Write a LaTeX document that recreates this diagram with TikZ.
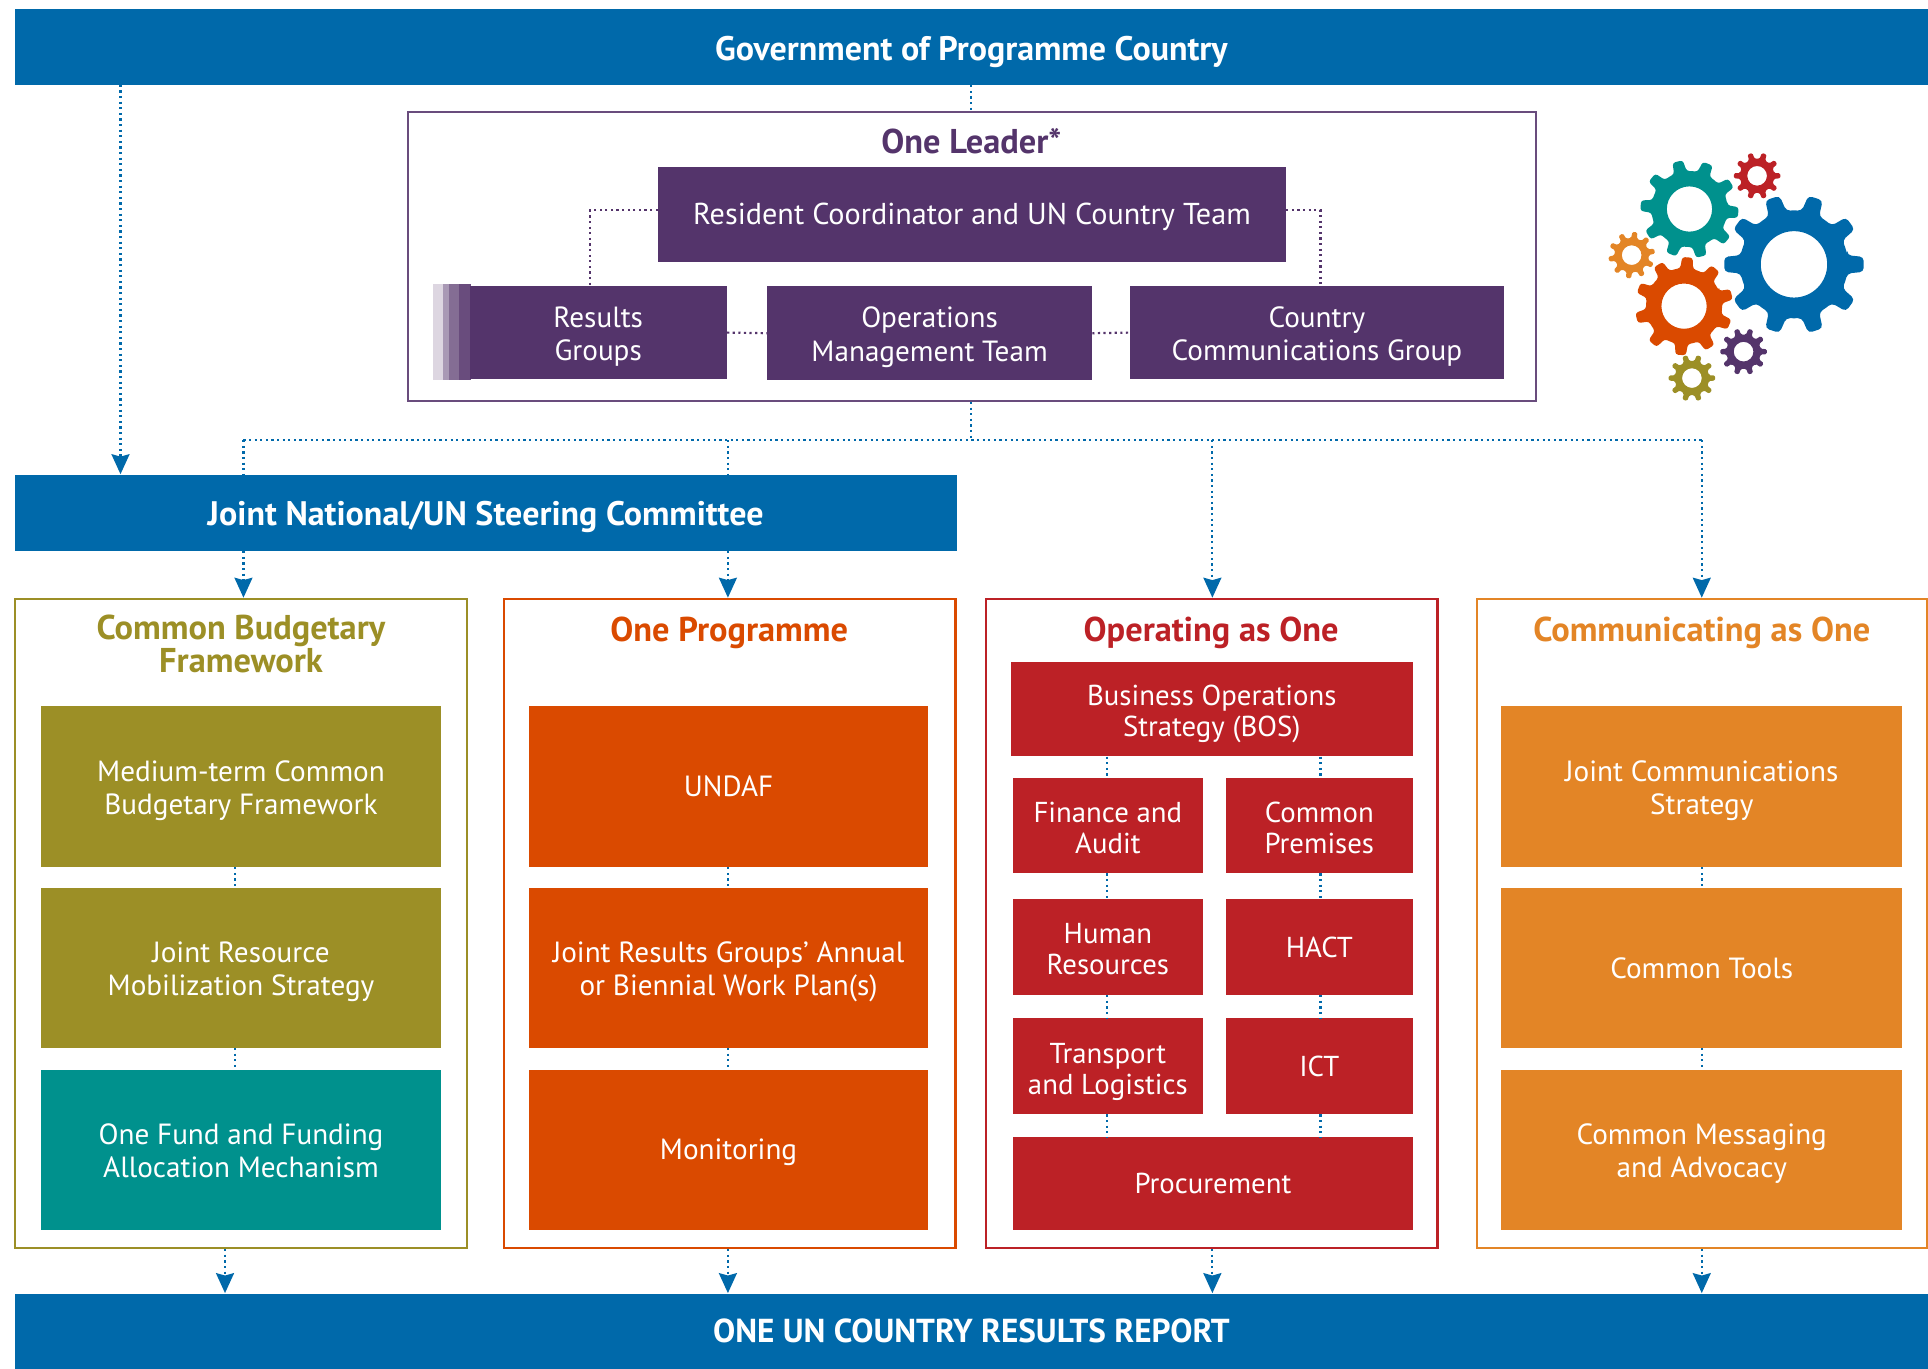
\documentclass[tikz,border=0pt]{standalone}
\usepackage{fontspec}
\setmainfont{PT Sans}
\usetikzlibrary{arrows.meta,calc}
\definecolor{unblue}{HTML}{0069AA}
\definecolor{unpurple}{HTML}{54346B}
\definecolor{unolive}{HTML}{9C8F26}
\definecolor{unteal}{HTML}{00918D}
\definecolor{unverm}{HTML}{DA4A00}
\definecolor{unred}{HTML}{BC2126}
\definecolor{unorange}{HTML}{E38526}
\newcommand{\gearshape}[8]{% cx cy outer root hole teeth rot colour
  \pgfmathsetmacro{\crad}{#3*0.035}
  \fill[#8,even odd rule,rounded corners=\crad pt]
    ({#1+#4*cos(#7+360*0.27/#6)},{#2-#4*sin(#7+360*0.27/#6)})
    \foreach \k in {1,...,#6}{
      -- ({#1+#4*cos(#7+360*(\k-0.5)/#6)},{#2-#4*sin(#7+360*(\k-0.5)/#6)})
      -- ({#1+#4*cos(#7+360*\k/#6-360*0.27/#6)},{#2-#4*sin(#7+360*\k/#6-360*0.27/#6)})
      -- ({#1+#3*cos(#7+360*\k/#6-360*0.17/#6)},{#2-#3*sin(#7+360*\k/#6-360*0.17/#6)})
      -- ({#1+#3*cos(#7+360*\k/#6+360*0.17/#6)},{#2-#3*sin(#7+360*\k/#6+360*0.17/#6)})
      -- ({#1+#4*cos(#7+360*\k/#6+360*0.27/#6)},{#2-#4*sin(#7+360*\k/#6+360*0.27/#6)})
    } -- cycle
    [sharp corners] (#1,#2) circle[radius=#5];
}
\newcommand{\topstrut}[1]{\rule{0pt}{#1pt}}
\newcommand{\botstrut}[1]{\rule[-#1pt]{0pt}{#1pt}}
\tikzset{
  x=0.6148pt,y=-0.6148pt,
  span/.style args={#1,#2,#3,#4}{at={({(#1+#3)/2},{(#2+#4)/2})},minimum width={(#3-#1)*0.6148pt},minimum height={(#4-#2)*0.6148pt}},
  regstruts/.style={execute at begin node={\topstrut{13.4}},execute at end node={\botstrut{3}}},
  boldstruts/.style={execute at begin node={\topstrut{15}},execute at end node={\botstrut{3.9}}},
  twol/.style={execute at begin node={\topstrut{31}}},
  boxbase/.style={inner sep=0pt,align=center,text=white,regstruts,font=\fontsize{14.6}{16.6}\selectfont},
  bar/.style={boxbase,boldstruts,fill=unblue,font=\fontsize{17}{18}\selectfont\bfseries},
  purplebox/.style={boxbase,fill=unpurple},
  olivebox/.style={boxbase,fill=unolive},
  tealbox/.style={boxbase,fill=unteal},
  vermbox/.style={boxbase,fill=unverm},
  redbox/.style={boxbase,fill=unred,font=\fontsize{14.4}{15.5}\selectfont},
  orangebox/.style={boxbase,fill=unorange},
  frame/.style={inner sep=0pt,draw=#1,line width=1.1pt},
  title/.style={inner sep=0pt,align=center,text=#1,execute at begin node={\topstrut{15}},execute at end node={\botstrut{3}},font=\fontsize{17.2}{16.6}\selectfont\bfseries},
  bdot/.style={draw=unblue,line width=1.1pt,dash pattern=on 1.1pt off 1.7pt},
  pdot/.style={draw=unpurple,line width=1.1pt,dash pattern=on 1.1pt off 1.7pt},
  barrow/.style={bdot,-{Stealth[length=10pt,width=9pt,inset=1.2pt,fill=unblue]}},
}
\begin{document}
\begin{tikzpicture}
\useasboundingbox (0,0) rectangle (1568,1113);
% bars
\node[bar,span={12,7,1568,69},execute at begin node={\topstrut{18}}] (gov) {Government of Programme Country};
\node[bar,span={12,386,778,448},execute at begin node={\topstrut{17}}] (jsc) {Joint National/UN Steering Committee};
\node[bar,span={12,1052,1568,1113},font=\fontsize{16.6}{18}\selectfont\bfseries] (rep) {ONE UN COUNTRY RESULTS REPORT};
% leader
\node[frame=unpurple!88!white,span={332,91,1249,326}] (lead) {};
\node[title=unpurple] at (790,115) (leadt) {One Leader*};
\node[purplebox,span={535,136,1046,213},font=\fontsize{15.1}{16.6}\selectfont] (res) {Resident Coordinator and UN Country Team};
\fill[fill=white!80!unpurple] (352,231) rectangle (360,309);
\fill[fill=white!50!unpurple] (360,231) rectangle (365,309);
\fill[fill=white!28!unpurple] (365,231) rectangle (373,309);
\fill[fill=white!12!unpurple] (373,231) rectangle (383,309);
\node[purplebox,twol,span={382,233,591,308}] (rg) {Results\\Groups};
\node[purplebox,twol,span={624,233,888,309}] (omt) {Operations\\Management Team};
\node[purplebox,twol,span={919,233,1223,308}] (ccg) {Country\\Communications Group};
% columns
\node[frame=unolive,span={12,487,380,1015}] (cbf) {};
\node[frame=unverm,span={410,487,777,1015}] (op) {};
\node[frame=unred,span={802,487,1169,1015}] (oao) {};
\node[frame=unorange,span={1201,487,1567.4,1015}] (cao) {};
\node[title=unolive] at (196,526) (cbft) {Common Budgetary\\Framework};
\node[title=unverm] at (593,512.5) (opt) {One Programme};
\node[title=unred] at (985,512.5) (oaot) {Operating as One};
\node[title=unorange] at (1384,512.5) (caot) {Communicating as One};
% olive column
\node[olivebox,twol,span={33,574,359,705}] (c1) {Medium-term Common\\Budgetary Framework};
\node[olivebox,twol,span={33,722,359,852}] (c2) {Joint Resource\\Mobilization Strategy};
\node[tealbox,twol,span={33,870,359,1000}] (c3) {One Fund and Funding\\Allocation Mechanism};
% programme column
\node[vermbox,span={430,574,755,705}] (p1) {UNDAF};
\node[vermbox,twol,span={430,722,755,852}] (p2) {Joint Results Groups’ Annual\\or Biennial Work Plan(s)};
\node[vermbox,span={430,870,755,1000}] (p3) {Monitoring};
% operating column
\node[redbox,twol,span={822,538,1149,615}] (bos) {Business Operations\\Strategy (BOS)};
\node[redbox,twol,span={824,633,978,710}] (fa) {Finance and\\Audit};
\node[redbox,twol,span={997,633,1149,710}] (cp) {Common\\Premises};
\node[redbox,twol,span={824,731,978,809}] (hr) {Human\\Resources};
\node[redbox,span={997,731,1149,809}] (hact) {HACT};
\node[redbox,twol,span={824,828,978,906}] (tl) {Transport\\and Logistics};
\node[redbox,span={997,828,1149,906}] (ict) {ICT};
\node[redbox,span={824,925,1149,1000}] (proc) {Procurement};
% communicating column
\node[orangebox,twol,span={1221,574,1547,705}] (o1) {Joint Communications\\Strategy};
\node[orangebox,span={1221,722,1547,852}] (o2) {Common Tools};
\node[orangebox,twol,span={1221,870,1547,1000}] (o3) {Common Messaging\\and Advocacy};
% named points
\coordinate (hub) at (790,358);
\coordinate (wing1) at (198,358);
\coordinate (wing2) at (592,358);
\coordinate (wing3) at (986,358);
\coordinate (wing4) at (1384,358);
\coordinate (govl) at (98,69);
\coordinate (resl) at (535,171);
\coordinate (resr) at (1046,171);
\coordinate (rgn) at (480,233);
\coordinate (ccgn) at (1074,233);
\coordinate (coll) at (191,0);
\coordinate (f1) at (900,0);
\coordinate (f2) at (1074,0);
\coordinate (rep1) at (183,0);
% blue dotted connectors
\draw[bdot] (gov.south -| hub) -- (lead.north -| hub);
\draw[bdot] (lead.south -| hub) -- (hub);
\draw[bdot] (wing1) -- (wing4);
\draw[barrow] (govl) -- (jsc.north -| govl);
\draw[bdot] (wing1) -- (jsc.north -| wing1);
\draw[bdot] (wing2) -- (jsc.north -| wing2);
\draw[barrow] (wing3) -- (oao.north -| wing3);
\draw[barrow] (wing4) -- (cao.north -| wing4);
\draw[barrow] (jsc.south -| wing1) -- (cbf.north -| wing1);
\draw[barrow] (jsc.south -| wing2) -- (op.north -| wing2);
\draw[barrow] (cbf.south -| rep1) -- (rep.north -| rep1);
\draw[barrow] (op.south -| wing2) -- (rep.north -| wing2);
\draw[barrow] (oao.south -| wing3) -- (rep.north -| wing3);
\draw[barrow] (cao.south -| wing4) -- (rep.north -| wing4);
\draw[bdot] (c1.south -| coll) -- (c2.north -| coll);
\draw[bdot] (c2.south -| coll) -- (c3.north -| coll);
\draw[bdot] (p1.south -| wing2) -- (p2.north -| wing2);
\draw[bdot] (p2.south -| wing2) -- (p3.north -| wing2);
\draw[bdot] (o1.south -| wing4) -- (o2.north -| wing4);
\draw[bdot] (o2.south -| wing4) -- (o3.north -| wing4);
\draw[bdot] (bos.south -| f1) -- (fa.north -| f1);
\draw[bdot] (bos.south -| f2) -- (cp.north -| f2);
\draw[bdot] (fa.south -| f1) -- (hr.north -| f1);
\draw[bdot] (cp.south -| f2) -- (hact.north -| f2);
\draw[bdot] (hr.south -| f1) -- (tl.north -| f1);
\draw[bdot] (hact.south -| f2) -- (ict.north -| f2);
\draw[bdot] (tl.south -| f1) -- (proc.north -| f1);
\draw[bdot] (ict.south -| f2) -- (proc.north -| f2);
% purple dotted connectors
\draw[pdot] (resl) -| (rgn);
\draw[pdot] (resr) -| (ccgn);
\draw[pdot] (rg.east) -- (omt.west);
\draw[pdot] (omt.east) -- (ccg.west);
% gears
\gearshape{1459}{215}{57}{44}{27}{10}{0}{unblue}
\gearshape{1374}{170}{40}{31}{18.4}{10}{-4}{unteal}
\gearshape{1369.6}{249}{40}{31}{18.4}{10}{14}{unverm}
\gearshape{1429}{143}{19}{14}{8}{10}{0}{unred}
\gearshape{1327}{207.5}{19}{14}{8}{10}{10}{unorange}
\gearshape{1418}{286}{19}{14}{8}{10}{0}{unpurple}
\gearshape{1376}{307.5}{19}{14}{8}{10}{0}{unolive}
\end{tikzpicture}
\end{document}
